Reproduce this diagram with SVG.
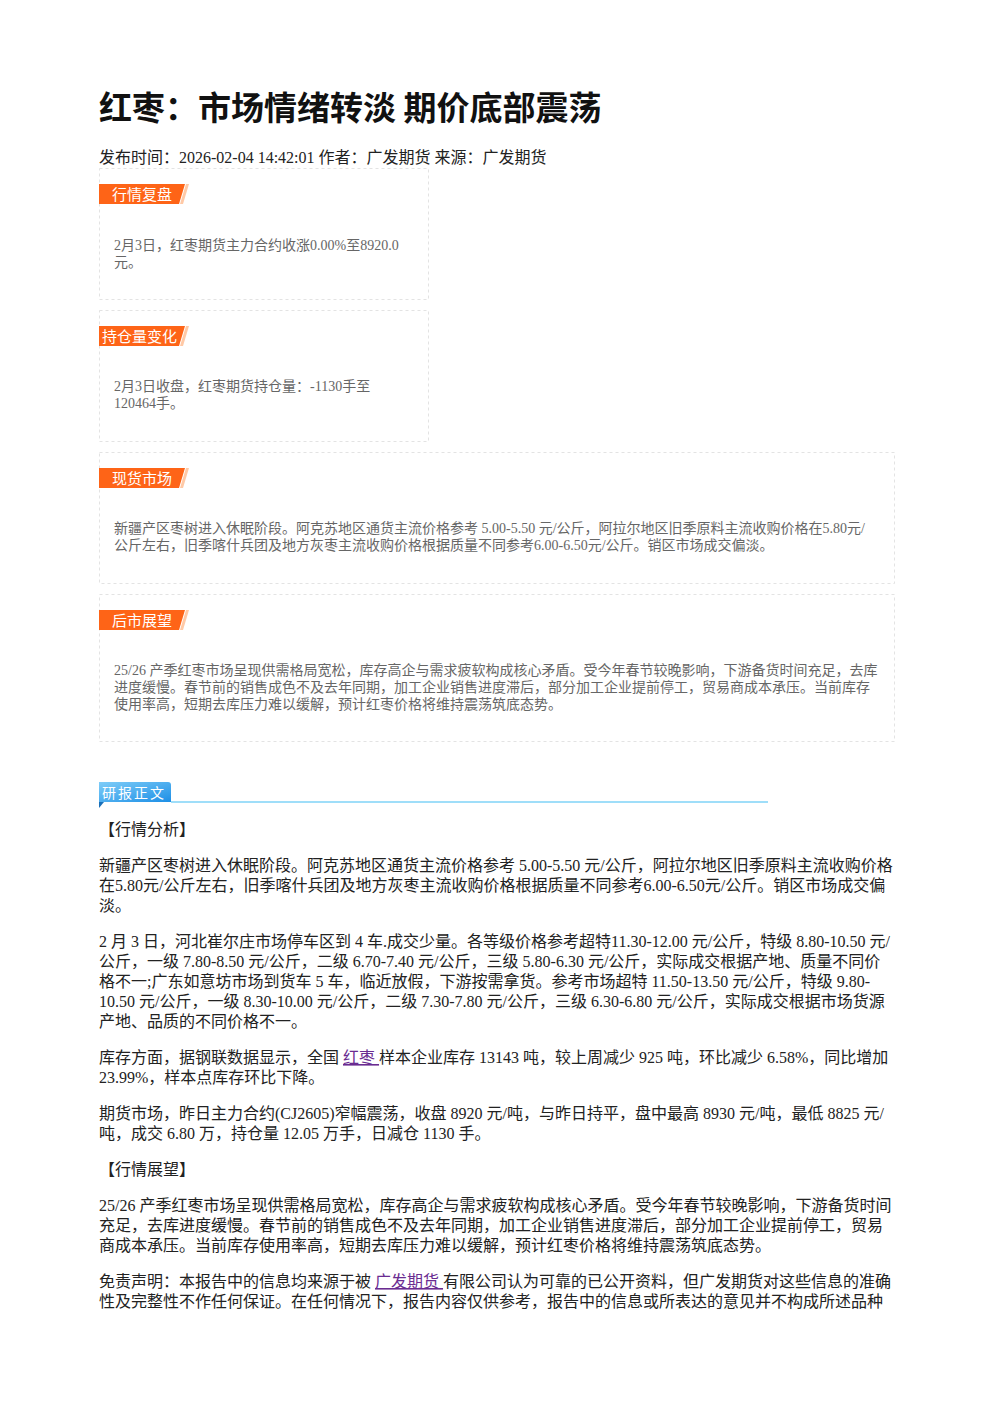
<svg xmlns="http://www.w3.org/2000/svg" width="992" height="1403" viewBox="0 0 992 1403">
<defs>
<linearGradient id="blueTag" x1="0" y1="0" x2="1" y2="1">
<stop offset="0" stop-color="#7fcdf8"/>
<stop offset="1" stop-color="#1d8fe6"/>
</linearGradient>
<style>
.title{font-family:"Noto Sans CJK SC","Liberation Sans",sans-serif;font-weight:700;font-size:33px;fill:#111}
.meta{font-family:"Liberation Serif","Noto Sans CJK SC",serif;font-size:16px;fill:#222}
.box{fill:#fff;stroke:#e3e3e3;stroke-width:1;stroke-dasharray:3 3}
.tag{fill:#fe6417}
.tagStripe{fill:#ffc9a6}
.tagText{font-family:"Noto Sans CJK SC","Liberation Sans",sans-serif;font-size:15px;fill:#fff}
.boxText{font-family:"Liberation Serif","Noto Sans CJK SC",serif;font-size:14px;fill:#666}
.body{font-family:"Liberation Serif","Noto Sans CJK SC",serif;font-size:16px;fill:#222}
.link{fill:#6a2c91;text-decoration:underline}
.blueText{font-family:"Noto Sans CJK SC","Liberation Sans",sans-serif;font-size:14px;fill:#fff;letter-spacing:2px}
</style>
</defs>
<rect width="992" height="1403" fill="#fff"/>

<g id="header">
<text class="title" x="99" y="120">红枣：市场情绪转淡 期价底部震荡</text>
<text class="meta" x="99" y="163">发布时间：2026-02-04 14:42:01 作者：广发期货 来源：广发期货</text>
</g>

<g id="box-review">
<rect class="box" x="99.5" y="168.5" width="329" height="131"/>
<polygon class="tag" points="99,184 185,184 179,204 99,204"/>
<polygon class="tagStripe" points="186,184 189,184 183,204 180,204"/>
<text class="tagText" x="112" y="200">行情复盘</text>
<text class="boxText" x="114" y="250">2月3日，红枣期货主力合约收涨0.00%至8920.0</text>
<text class="boxText" x="114" y="267">元。</text>
</g>

<g id="box-position">
<rect class="box" x="99.5" y="310.5" width="329" height="131"/>
<polygon class="tag" points="99,326 185,326 179,346 99,346"/>
<polygon class="tagStripe" points="186,326 189,326 183,346 180,346"/>
<text class="tagText" x="102" y="342">持仓量变化</text>
<text class="boxText" x="114" y="391">2月3日收盘，红枣期货持仓量：-1130手至</text>
<text class="boxText" x="114" y="408">120464手。</text>
</g>

<g id="box-spot">
<rect class="box" x="99.5" y="452.5" width="795" height="131"/>
<polygon class="tag" points="99,468 185,468 179,488 99,488"/>
<polygon class="tagStripe" points="186,468 189,468 183,488 180,488"/>
<text class="tagText" x="112" y="484">现货市场</text>
<text class="boxText" x="114" y="533">新疆产区枣树进入休眠阶段。阿克苏地区通货主流价格参考 5.00-5.50 元/公斤，阿拉尔地区旧季原料主流收购价格在5.80元/</text>
<text class="boxText" x="114" y="550">公斤左右，旧季喀什兵团及地方灰枣主流收购价格根据质量不同参考6.00-6.50元/公斤。销区市场成交偏淡。</text>
</g>

<g id="box-outlook">
<rect class="box" x="99.5" y="594.5" width="795" height="147"/>
<polygon class="tag" points="99,610 185,610 179,630 99,630"/>
<polygon class="tagStripe" points="186,610 189,610 183,630 180,630"/>
<text class="tagText" x="112" y="626">后市展望</text>
<text class="boxText" x="114" y="675">25/26 产季红枣市场呈现供需格局宽松，库存高企与需求疲软构成核心矛盾。受今年春节较晚影响，下游备货时间充足，去库</text>
<text class="boxText" x="114" y="692">进度缓慢。春节前的销售成色不及去年同期，加工企业销售进度滞后，部分加工企业提前停工，贸易商成本承压。当前库存</text>
<text class="boxText" x="114" y="709">使用率高，短期去库压力难以缓解，预计红枣价格将维持震荡筑底态势。</text>
</g>

<g id="report-heading">
<line x1="171" y1="802" x2="768" y2="802" stroke="#7fd3f7" stroke-width="1.5"/>
<path d="M99,782 H168 Q171,782 171,785 V802 H99 Z" fill="url(#blueTag)"/>
<polygon points="99,802 104,802 99,808" fill="#1a6fb8"/>
<text class="blueText" x="102" y="798">研报正文</text>
</g>

<g id="report-body">
<text class="body" x="99" y="835">【行情分析】</text>
<text class="body" x="99" y="871">新疆产区枣树进入休眠阶段。阿克苏地区通货主流价格参考 5.00-5.50 元/公斤，阿拉尔地区旧季原料主流收购价格</text>
<text class="body" x="99" y="891">在5.80元/公斤左右，旧季喀什兵团及地方灰枣主流收购价格根据质量不同参考6.00-6.50元/公斤。销区市场成交偏</text>
<text class="body" x="99" y="911">淡。</text>

<text class="body" x="99" y="947">2 月 3 日，河北崔尔庄市场停车区到 4 车.成交少量。各等级价格参考超特11.30-12.00 元/公斤，特级 8.80-10.50 元/</text>
<text class="body" x="99" y="967">公斤，一级 7.80-8.50 元/公斤，二级 6.70-7.40 元/公斤，三级 5.80-6.30 元/公斤，实际成交根据产地、质量不同价</text>
<text class="body" x="99" y="987">格不一;广东如意坊市场到货车 5 车，临近放假，下游按需拿货。参考市场超特 11.50-13.50 元/公斤，特级 9.80-</text>
<text class="body" x="99" y="1007">10.50 元/公斤，一级 8.30-10.00 元/公斤，二级 7.30-7.80 元/公斤，三级 6.30-6.80 元/公斤，实际成交根据市场货源</text>
<text class="body" x="99" y="1027">产地、品质的不同价格不一。</text>

<text class="body" x="99" y="1063">库存方面，据钢联数据显示，全国 <tspan class="link">红枣 </tspan>样本企业库存 13143 吨，较上周减少 925 吨，环比减少 6.58%，同比增加</text>
<text class="body" x="99" y="1083">23.99%，样本点库存环比下降。</text>

<text class="body" x="99" y="1119">期货市场，昨日主力合约(CJ2605)窄幅震荡，收盘 8920 元/吨，与昨日持平，盘中最高 8930 元/吨，最低 8825 元/</text>
<text class="body" x="99" y="1139">吨，成交 6.80 万，持仓量 12.05 万手，日减仓 1130 手。</text>

<text class="body" x="99" y="1175">【行情展望】</text>
<text class="body" x="99" y="1211">25/26 产季红枣市场呈现供需格局宽松，库存高企与需求疲软构成核心矛盾。受今年春节较晚影响，下游备货时间</text>
<text class="body" x="99" y="1231">充足，去库进度缓慢。春节前的销售成色不及去年同期，加工企业销售进度滞后，部分加工企业提前停工，贸易</text>
<text class="body" x="99" y="1251">商成本承压。当前库存使用率高，短期去库压力难以缓解，预计红枣价格将维持震荡筑底态势。</text>

<text class="body" x="99" y="1287">免责声明：本报告中的信息均来源于被 <tspan class="link">广发期货 </tspan>有限公司认为可靠的已公开资料，但广发期货对这些信息的准确</text>
<text class="body" x="99" y="1307">性及完整性不作任何保证。在任何情况下，报告内容仅供参考，报告中的信息或所表达的意见并不构成所述品种</text>
</g>
</svg>
